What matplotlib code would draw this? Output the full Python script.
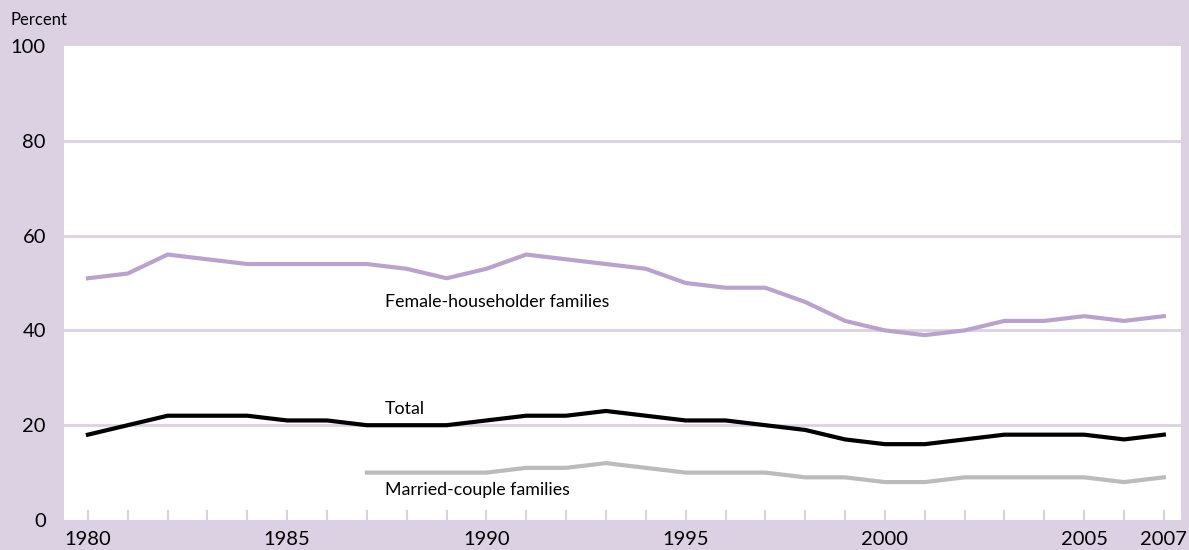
import numpy as np
import matplotlib.pyplot as plt

# ── DATA ─────────────────────────────────────────────
years = list(range(1980, 2008))
female = [51, 52, 56, 55, 54, 54, 54, 54, 53, 51, 53, 56, 55, 54, 53, 50,
          49, 49, 46, 42, 40, 39, 40, 42, 42, 43, 42, 43]
total = [18, 20, 22, 22, 22, 21, 21, 20, 20, 20, 21, 22, 22, 23, 22, 21,
         21, 20, 19, 17, 16, 16, 17, 18, 18, 18, 17, 18]
married_years = list(range(1987, 2008))
married = [10, 10, 10, 10, 11, 11, 12, 11, 10, 10, 10, 9, 9, 8, 8, 9,
           9, 9, 9, 8, 9]
xtick_labels = [1980, 1985, 1990, 1995, 2000, 2005, 2007]

bg = "#dcd0e3"
plt.rcParams["font.family"] = ["Lato", "DejaVu Sans"]

# ── PLOT ─────────────────────────────────────────────
fig = plt.figure(figsize=(11.89, 5.5), dpi=100, facecolor=bg)
ax = fig.add_axes([64 / 1189, 30 / 550, 1117 / 1189, 474 / 550])
ax.set_facecolor("white")

for y in [20, 40, 60, 80]:
    ax.axhline(y, color=bg, lw=2, zorder=1)

ax.plot(years, female, color="#b9a3cc", lw=3, zorder=3)
ax.plot(married_years, married, color="#bbbbbb", lw=3, zorder=3)
ax.plot(years, total, color="black", lw=3, zorder=4)

ax.text(1987.45, 46, "Female-householder families", fontsize=12.8, va="center")
ax.text(1987.45, 23.5, "Total", fontsize=12.8, va="center")
ax.text(1987.45, 6.4, "Married-couple families", fontsize=12.8, va="center")

ax.set_xlim(1979.4, 2007.43)
ax.set_ylim(0, 100)
ax.set_yticks([0, 20, 40, 60, 80, 100])
ax.set_xticks(years)
ax.set_xticklabels([str(y) if y in xtick_labels else "" for y in years])
ax.tick_params(axis="x", direction="in", length=7, width=1.5, color=bg,
               labelsize=14.5, pad=8)
ax.tick_params(axis="y", length=0, labelsize=14.5, pad=13)
for s in ax.spines.values():
    s.set_visible(False)

fig.text(10 / 1189, 1 - 20 / 550, "Percent", fontsize=12, va="center")

plt.savefig("out.png", dpi=100, facecolor=bg)
